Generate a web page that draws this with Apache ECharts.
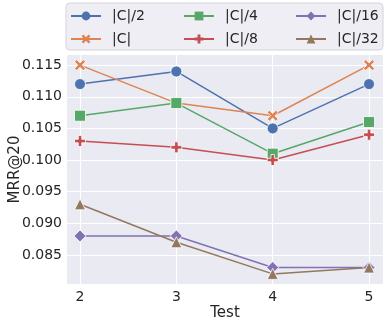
<!DOCTYPE html>
<html>
<head>
<meta charset="utf-8">
<script src="https://cdn.jsdelivr.net/npm/echarts@6/dist/echarts.min.js"></script>
<style>
  html, body { margin: 0; padding: 0; background: #fff; }
  #chart { width: 390px; height: 325px; }
</style>
</head>
<body>
<div id="chart"></div>
<script>
// test ids on the x axis
const tests = [2, 3, 4, 5];
const seriesNames = ["|C|/2", "|C|", "|C|/4", "|C|/8", "|C|/16", "|C|/32"];
const c2 = [0.112, 0.114, 0.105, 0.112];
const c1 = [0.115, 0.109, 0.107, 0.115];
const c4 = [0.107, 0.109, 0.101, 0.106];
const c8 = [0.103, 0.102, 0.100, 0.104];
const c16 = [0.088, 0.088, 0.083, 0.083];
const c32 = [0.093, 0.087, 0.082, 0.083];
const yTicks = [0.085, 0.090, 0.095, 0.100, 0.105, 0.110, 0.115];

const colors = ["#4C72B0", "#DD8452", "#55A868", "#C44E52", "#8172B3", "#937860"];
const xPath = "path://M0,2L2,0L5,3L8,0L10,2L7,5L10,8L8,10L5,7L2,10L0,8L3,5Z";
const plusPath = "path://M3.4,0H6.6V3.4H10V6.6H6.6V10H3.4V6.6H0V3.4H3.4Z";
const symbols = ["circle", xPath, "rect", plusPath, "diamond", "triangle"];
const sizes = [11, 11, 11, 11, 12, 11];
const values = [c2, c1, c4, c8, c16, c32];

const chart = echarts.init(document.getElementById("chart"));
const textColor = "#262626";
const font = "DejaVu Sans";

function makeLegend(names, left) {
  return {
    data: names,
    orient: "vertical",
    left: left,
    top: 9,
    padding: 0,
    itemWidth: 30,
    itemHeight: 11,
    itemGap: 9,
    itemStyle: { borderWidth: 0 },
    textStyle: { color: textColor, fontFamily: font, fontSize: 14, padding: [0, 0, 0, 6] },
  };
}

const option = {
  animation: false,
  color: colors,
  graphic: [
    {
      type: "rect",
      shape: { x: 66, y: 3, width: 317, height: 47, r: 4 },
      style: { fill: "#eeeef4", stroke: "#d4d4da", lineWidth: 1 },
      z: -1,
    },
  ],
  legend: [
    makeLegend([seriesNames[0], seriesNames[1]], 70),
    makeLegend([seriesNames[2], seriesNames[3]], 183),
    makeLegend([seriesNames[4], seriesNames[5]], 295),
  ],
  grid: {
    left: 67,
    right: 7,
    top: 55,
    bottom: 41,
    show: true,
    backgroundColor: "#EAEAF2",
    borderWidth: 0,
    containLabel: false,
    outerBoundsMode: "none",
  },
  xAxis: {
    type: "value",
    min: 1.865,
    max: 5.145,
    name: "Test",
    nameLocation: "middle",
    nameGap: 22,
    nameMoveOverlap: false,
    nameTextStyle: { color: textColor, fontFamily: font, fontSize: 15 },
    axisLine: { show: false },
    axisTick: { show: false, customValues: tests },
    axisLabel: {
      customValues: tests,
      color: textColor,
      fontFamily: font,
      fontSize: 14,
      margin: 6,
    },
    splitLine: { show: true, lineStyle: { color: "#fff", width: 1 } },
  },
  yAxis: {
    type: "value",
    min: 0.0804,
    max: 0.1166,
    name: "MRR@20",
    nameLocation: "middle",
    nameGap: 44,
    nameMoveOverlap: false,
    nameTextStyle: { color: textColor, fontFamily: font, fontSize: 15 },
    axisLine: { show: false },
    axisTick: { show: false, customValues: yTicks },
    axisLabel: {
      customValues: yTicks,
      color: textColor,
      fontFamily: font,
      fontSize: 14,
      margin: 5,
      formatter: (v) => v.toFixed(3),
    },
    splitLine: { show: true, lineStyle: { color: "#fff", width: 1 } },
  },
  series: seriesNames.map((name, i) => ({
    name: name,
    type: "line",
    data: tests.map((t, j) => [t, values[i][j]]),
    symbol: symbols[i],
    symbolSize: sizes[i],
    showAllSymbol: true,
    clip: false,
    lineStyle: { width: 1.5, color: colors[i] },
    itemStyle: { color: colors[i], borderColor: "#fff", borderWidth: 0.8 },
    emphasis: { disabled: true },
  })),
};

chart.setOption(option);
</script>
</body>
</html>
